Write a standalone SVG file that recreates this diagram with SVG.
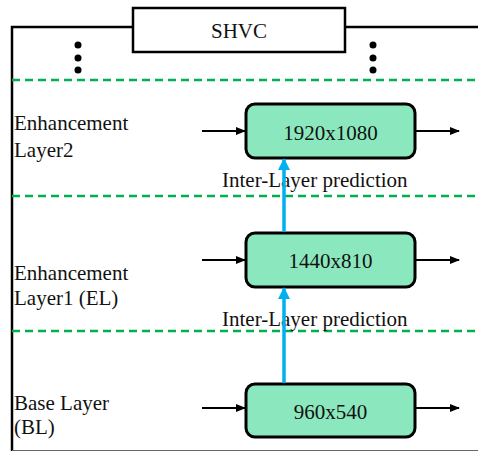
<svg xmlns="http://www.w3.org/2000/svg" width="478" height="451" viewBox="0 0 478 451">
<style>
text{font-family:"Liberation Serif","Times New Roman",serif;font-size:21px;fill:#111}
.frame{fill:none;stroke:#000;stroke-width:2.5}
.dash{stroke:#00B050;stroke-width:2.5;stroke-dasharray:8 5}
.node rect{fill:#8BE8BE;stroke:#000;stroke-width:3}
.io{stroke:#000;stroke-width:2;marker-end:url(#ah)}
.ilp{stroke:#00B0F0;stroke-width:3.5;marker-end:url(#bh)}
.dot{fill:#000}
</style>
<defs>
<marker id="ah" markerWidth="10" markerHeight="8" refX="9" refY="4" orient="auto" markerUnits="userSpaceOnUse"><path d="M0,0 L10,4 L0,8 Z" fill="#000"/></marker>
<marker id="bh" markerWidth="12" markerHeight="12" refX="11" refY="6" orient="auto" markerUnits="userSpaceOnUse"><path d="M0,0 L12,6 L0,12 Z" fill="#00B0F0"/></marker>
</defs>
<rect width="478" height="451" fill="#fff"/>
<g id="frame">
<path class="frame" d="M12,451 L12,27 L133,27 M345,27 L478,27"/>
<line x1="12" y1="450.5" x2="478" y2="450.5" stroke="#666" stroke-width="1"/>
</g>
<g id="shvc">
<rect x="133" y="8" width="212" height="44" fill="#fff" stroke="#000" stroke-width="2.5"/>
<text x="239" y="38" text-anchor="middle">SHVC</text>
</g>
<g id="ellipsis">
<circle class="dot" cx="78" cy="45" r="3.5"/><circle class="dot" cx="78" cy="58" r="3.5"/><circle class="dot" cx="78" cy="70" r="3.5"/>
<circle class="dot" cx="373" cy="45" r="3.5"/><circle class="dot" cx="373" cy="58" r="3.5"/><circle class="dot" cx="373" cy="70" r="3.5"/>
</g>
<g id="separators">
<line class="dash" x1="12" y1="80" x2="478" y2="80"/>
<line class="dash" x1="12" y1="196" x2="478" y2="196"/>
<line class="dash" x1="12" y1="331" x2="478" y2="331"/>
</g>
<g id="labels">
<text x="14" y="130">Enhancement</text>
<text x="14" y="157">Layer2</text>
<text x="14" y="280">Enhancement</text>
<text x="14" y="305">Layer1 (EL)</text>
<text x="14" y="410">Base Layer</text>
<text x="14" y="434">(BL)</text>
<text x="222" y="187">Inter-Layer prediction</text>
<text x="222" y="326">Inter-Layer prediction</text>
</g>
<g id="el2" class="node">
<rect x="246" y="104" width="169" height="54" rx="9"/>
<text x="330.5" y="140" text-anchor="middle">1920x1080</text>
</g>
<g id="el1" class="node">
<rect x="246" y="233" width="169" height="54" rx="9"/>
<text x="330.5" y="268" text-anchor="middle">1440x810</text>
</g>
<g id="bl" class="node">
<rect x="246" y="384" width="169" height="53" rx="9"/>
<text x="330.5" y="419" text-anchor="middle">960x540</text>
</g>
<g id="connectors">
<line class="io" x1="202" y1="131" x2="245" y2="131"/>
<line class="io" x1="416" y1="131" x2="459" y2="131"/>
<line class="io" x1="202" y1="260" x2="245" y2="260"/>
<line class="io" x1="416" y1="260" x2="459" y2="260"/>
<line class="io" x1="202" y1="408" x2="245" y2="408"/>
<line class="io" x1="416" y1="408" x2="459" y2="408"/>
<line class="ilp" x1="284" y1="232" x2="284" y2="159"/>
<line class="ilp" x1="284" y1="383" x2="284" y2="288"/>
</g>
</svg>
